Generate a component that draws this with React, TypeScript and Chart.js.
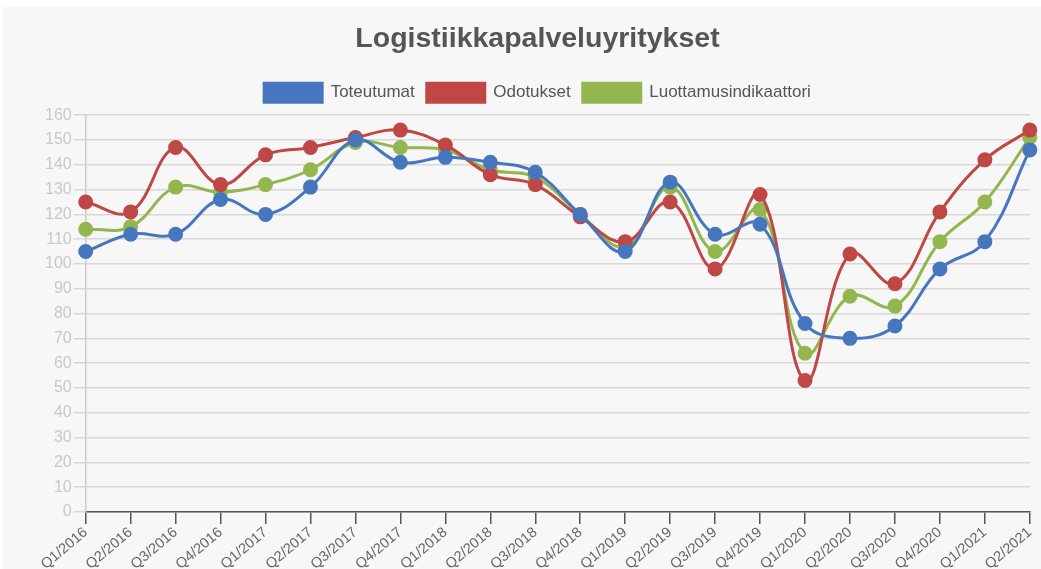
import React, { useEffect, useRef } from "react";
import { Chart, registerables } from "chart.js";
Chart.register(...registerables);

const title = "Logistiikkapalveluyritykset";
const quarters = [
  "Q1/2016", "Q2/2016", "Q3/2016", "Q4/2016",
  "Q1/2017", "Q2/2017", "Q3/2017", "Q4/2017",
  "Q1/2018", "Q2/2018", "Q3/2018", "Q4/2018",
  "Q1/2019", "Q2/2019", "Q3/2019", "Q4/2019",
  "Q1/2020", "Q2/2020", "Q3/2020", "Q4/2020",
  "Q1/2021", "Q2/2021",
];
const toteutumat = [105, 112, 112, 126, 120, 131, 150, 141, 143, 141, 137, 120, 105, 133, 112, 116, 76, 70, 75, 98, 109, 146];
const odotukset = [125, 121, 147, 132, 144, 147, 151, 154, 148, 136, 132, 119, 109, 125, 98, 128, 53, 104, 92, 121, 142, 154];
const luottamusindikaattori = [114, 115, 131, 129, 132, 138, 149, 147, 146, 138, 135, 120, 107, 131, 105, 122, 64, 87, 83, 109, 125, 151];
const yMin = 0;
const yMax = 160;
const yStep = 10;

const FONT = "'Liberation Sans', Arial, sans-serif";

const legendSpacing = {
  id: "legendSpacing",
  beforeInit(chart: any) {
    const orig = chart.legend.fit;
    chart.legend.fit = function () {
      orig.call(this);
      this.height += 3;
    };
  },
};

export default function App() {
  const ref = useRef<HTMLCanvasElement | null>(null);
  useEffect(() => {
    if (!ref.current) return;
    const mk = (label: string, data: number[], color: string) => ({
      label,
      data,
      borderColor: color,
      backgroundColor: color,
      pointBackgroundColor: color,
      pointBorderColor: color,
      borderWidth: 3,
      pointRadius: 6,
      pointHoverRadius: 6,
      tension: 0.4,
      fill: false,
    });
    const chart = new Chart(ref.current, {
      type: "line",
      data: {
        labels: quarters,
        datasets: [
          mk("Toteutumat", toteutumat, "#4677be"),
          mk("Odotukset", odotukset, "#bf4745"),
          mk("Luottamusindikaattori", luottamusindikaattori, "#93b64f"),
        ],
      },
      plugins: [legendSpacing],
      options: {
        animation: false,
        responsive: false,
        maintainAspectRatio: false,
        layout: { padding: { left: 40, right: 9, top: 0, bottom: 0 } },
        plugins: {
          title: {
            display: true,
            text: title,
            color: "#555555",
            font: { family: FONT, size: 28.5, weight: "bold" },
            padding: { top: 15, bottom: 15 },
          },
          legend: {
            display: true,
            labels: {
              color: "#555555",
              font: { family: FONT, size: 17 },
              boxWidth: 58,
              boxHeight: 19,
              padding: 12,
            },
          },
          tooltip: { enabled: false },
        },
        scales: {
          x: {
            offset: false,
            grid: {
              display: true,
              drawOnChartArea: false,
              drawTicks: true,
              tickLength: 12,
              color: "#555555",
              lineWidth: 1.5,
            },
            border: { display: true, color: "#555555", width: 1.5 },
            ticks: {
              color: "#666666",
              font: { family: FONT, size: 14.5 },
              maxRotation: 40,
              minRotation: 40,
              autoSkip: false,
              padding: 0,
            },
          },
          y: {
            min: yMin,
            max: yMax,
            grid: {
              color: "#d8d8d8",
              lineWidth: 1.5,
              tickLength: 12,
              drawTicks: true,
            },
            border: { display: true, color: "#cccccc", width: 1.5 },
            ticks: {
              stepSize: yStep,
              color: "#c8c8c8",
              font: { family: FONT, size: 16 },
              padding: 2,
            },
          },
        },
      },
    });
    return () => chart.destroy();
  }, []);
  return (
    <div
      style={{
        position: "absolute",
        left: 3,
        top: 7,
        width: 1038,
        height: 562,
        background: "#f7f7f7",
        overflow: "hidden",
      }}
    >
      <canvas ref={ref} width={1038} height={566} style={{ display: "block" }} />
    </div>
  );
}
